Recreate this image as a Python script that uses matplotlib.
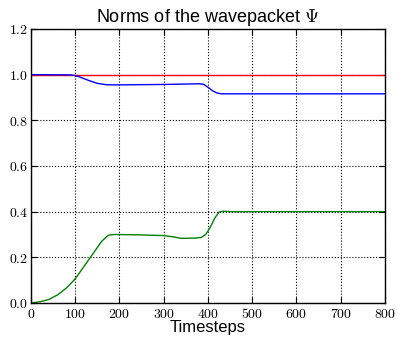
import numpy as np
import matplotlib
matplotlib.use("Agg")
import matplotlib.pyplot as plt
from matplotlib.ticker import FuncFormatter

plt.rcParams['mathtext.fontset'] = 'cm'

# norms
t_red = [0, 800]
norm_red = [1.0, 1.0]

t_blue = [0, 90, 100, 110, 130, 150, 170, 190, 300, 380, 390, 400, 410, 420, 430, 800]
norm_blue = [1.0, 0.999, 0.996, 0.99, 0.975, 0.962, 0.956, 0.955, 0.957, 0.96, 0.958,
             0.945, 0.93, 0.92, 0.916, 0.916]

t_green = [0, 20, 40, 60, 80, 100, 120, 140, 160, 175, 190, 250, 300, 320, 340, 370,
           385, 395, 405, 415, 425, 435, 450, 800]
norm_green = [0.0, 0.005, 0.015, 0.035, 0.065, 0.105, 0.16, 0.215, 0.27, 0.297, 0.300,
              0.298, 0.295, 0.29, 0.283, 0.284, 0.287, 0.30, 0.33, 0.37, 0.398, 0.402,
              0.400, 0.400]

fig = plt.figure(figsize=(3.96, 3.37), dpi=100)
ax = fig.add_axes([0.078, 0.101, 0.894, 0.813])

ax.plot(t_red, norm_red, color='red', lw=1)
ax.plot(t_blue, norm_blue, color='blue', lw=1)
ax.plot(t_green, norm_green, color='green', lw=1)

ax.set_xlim(0, 800)
ax.set_ylim(0, 1.2)
ax.set_xticks(np.arange(0, 801, 100))
ax.set_yticks(np.arange(0, 1.21, 0.2))
ax.xaxis.set_major_formatter(FuncFormatter(lambda v, p: r'$%d$' % v))
ax.yaxis.set_major_formatter(FuncFormatter(lambda v, p: r'$%.1f$' % v))
ax.tick_params(direction='in', top=True, right=True, labelsize=10, length=4, pad=3)
ax.tick_params(axis='y', pad=2)
ax.grid(True, color='black', linestyle=':', lw=0.8)
for s in ax.spines.values():
    s.set_linewidth(1)

ax.set_title(r'Norms of the wavepacket $\Psi$', fontsize=13,
             family='Liberation Sans', pad=5)
ax.set_xlabel('Timesteps', fontsize=12, family='Liberation Sans', labelpad=-1)

fig.savefig('out.png', dpi=100)
